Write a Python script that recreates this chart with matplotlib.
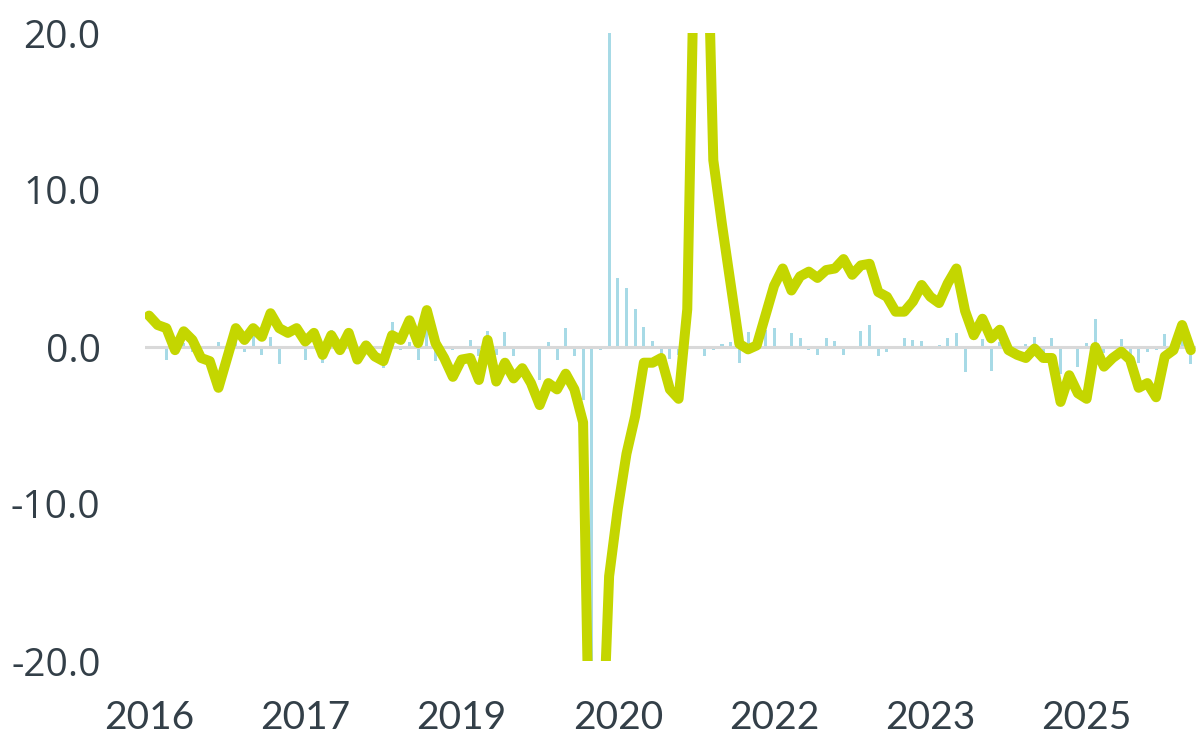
import numpy as np
import matplotlib.pyplot as plt

# monthly series, Jan 2016 .. Jan 2026
line_vals = [
    2.0, 1.4, 1.2, -0.2, 1.0, 0.45, -0.7, -0.9, -2.6, -0.7,
    1.2, 0.45, 1.2, 0.65, 2.15, 1.2, 0.9, 1.2, 0.35, 0.9,
    -0.5, 0.75, -0.2, 0.9, -0.8, 0.1, -0.6, -0.9, 0.75, 0.45,
    1.7, 0.25, 2.35, 0.25, -0.7, -1.9, -0.8, -0.7, -2.1, 0.45,
    -2.2, -1.0, -2.0, -1.35, -2.3, -3.7, -2.3, -2.7, -1.7, -2.7,
    -4.8, -35.0, -29.0, -14.6, -10.3, -6.8, -4.4, -1.0, -1.0, -0.7,
    -2.7, -3.3, 2.4, 31.0, 34.0, 11.9, 7.8, 4.0, 0.2, -0.15,
    0.1, 2.0, 3.9, 5.0, 3.6, 4.5, 4.8, 4.4, 4.9, 5.0,
    5.6, 4.6, 5.2, 5.3, 3.5, 3.2, 2.25, 2.25, 2.9, 3.95,
    3.2, 2.8, 4.05, 5.0, 2.3, 0.75, 1.8, 0.55, 1.1, -0.2,
    -0.5, -0.7, -0.1, -0.7, -0.7, -3.5, -1.8, -2.95, -3.3, 0.0,
    -1.25, -0.7, -0.3, -0.8, -2.6, -2.3, -3.2, -0.6, -0.2, 1.4,
    -0.2,
]

bar_vals = [
    0.0, 0.0, -0.8, 0.0, 0.25, -0.3, 0.0, 0.0, 0.3, 0.0,
    0.35, -0.3, 0.7, -0.5, 0.65, -1.1, 0.0, 0.0, -0.8, 0.0,
    -1.0, 1.1, 0.0, 0.0, 0.0, 0.35, 0.0, -1.35, 1.6, -0.2,
    0.3, -0.8, 1.1, -0.9, 0.0, -0.2, 0.0, 0.45, -0.6, 1.0,
    -0.5, 0.95, -0.6, -0.15, -0.05, -2.1, 0.35, -0.8, 1.2, -0.6,
    -3.4, -30.0, -0.2, 30.0, 4.4, 3.75, 2.4, 1.3, 0.4, -0.5,
    -0.75, -0.5, 0.0, -0.15, -0.55, -0.2, 0.2, 0.3, -1.05, 0.95,
    0.3, 1.1, 1.2, -0.1, 0.9, 0.6, -0.2, -0.5, 0.6, 0.4,
    -0.5, 0.0, 1.05, 1.4, -0.55, -0.3, -0.1, 0.6, 0.45, 0.4,
    -0.1, 0.15, 0.6, 0.9, -1.6, -0.1, 0.5, -1.5, 0.3, -0.3,
    0.0, 0.2, 0.65, -0.4, 0.6, -1.75, 0.0, -1.3, 0.25, 1.8,
    -0.4, -0.1, 0.5, -0.5, -1.0, -0.3, -0.2, 0.8, 0.15, 0.5,
    -1.1,
]

x_labels = ['2016', '2017', '2019', '2020', '2022', '2023', '2025']
label_step = 18
y_ticks = [-20, -10, 0, 10, 20]

text_color = '#333F48'
line_color = '#C4D600'
bar_color = '#A7DAE6'

x = np.arange(len(line_vals))

fig = plt.figure(figsize=(11.96, 7.54), dpi=100)
ax = fig.add_axes([145 / 1196, 93 / 754, 1051 / 1196, 628 / 754])

ax.bar(x, bar_vals, width=0.35, color=bar_color, zorder=1)
ax.axhline(0, color='#D9D9D9', lw=2.2, zorder=2)
ax.plot(x, line_vals, color=line_color, lw=7.2, zorder=3,
        solid_joinstyle='round', solid_capstyle='round')

ax.set_ylim(-20, 20)
ax.set_xlim(-0.46, 120.6)

ax.set_yticks(y_ticks)
ax.set_yticklabels([f'{v:.1f}' for v in y_ticks], fontsize=28,
                   family='Open Sans', color=text_color)
ax.set_xticks(x[::label_step])
ax.set_xticklabels(x_labels, fontsize=28, family='Lato', color=text_color)
ax.tick_params(axis='both', length=0)
ax.tick_params(axis='y', pad=32)
ax.tick_params(axis='x', pad=28)

for s in ax.spines.values():
    s.set_visible(False)

fig.savefig('out.png', dpi=100)
